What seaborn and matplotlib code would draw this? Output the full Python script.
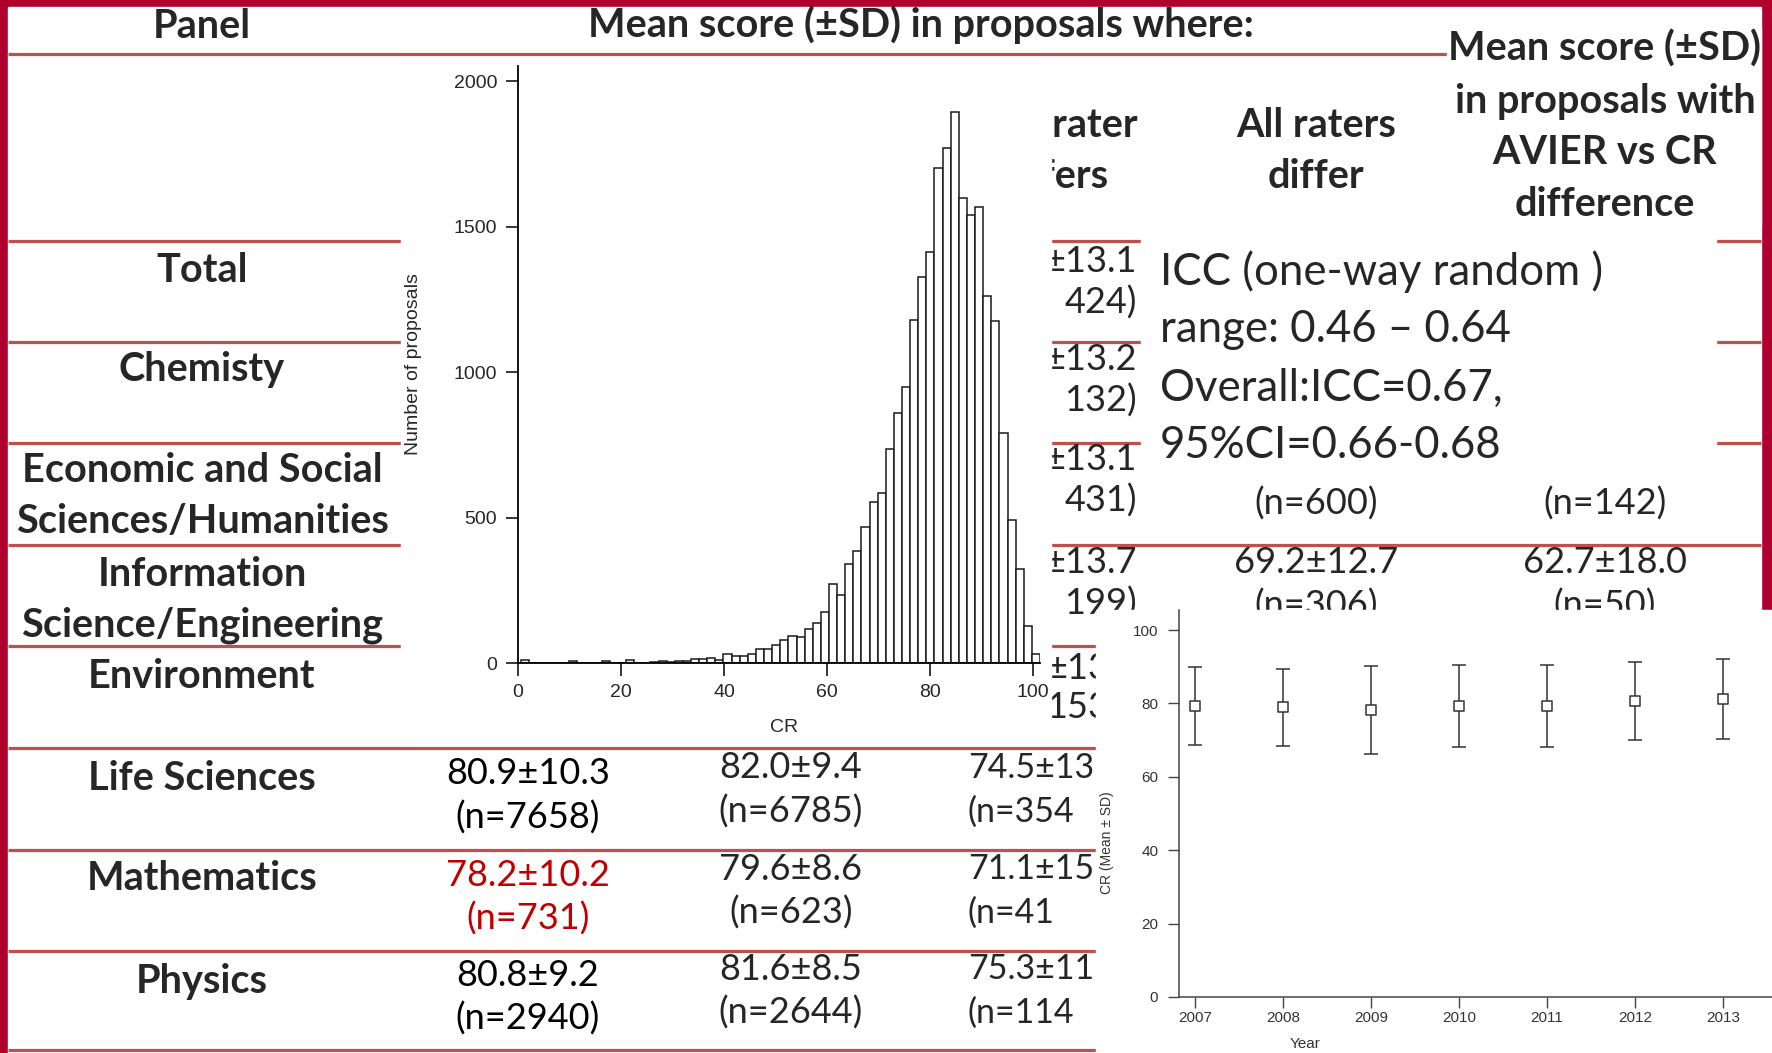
import numpy as np
import pandas as pd
import matplotlib
matplotlib.use("Agg")
import matplotlib.pyplot as plt
from matplotlib.patches import Rectangle
import seaborn as sns

W, H = 1772, 1053
CRIMSON = "#B0002E"
RULE = "#C0504D"
RED_TEXT = "#C00000"

# ---- histogram of CR scores (counts per bin) ----
cr_edges = np.linspace(0.5, 101.3, 65).tolist()
cr_counts = [9, 0, 0, 0, 0, 0, 6, 0, 0, 0, 8, 0, 0, 12, 0, 0,
             5, 8, 5, 8, 8, 14, 14, 17, 9, 32, 24, 24, 32, 49, 49, 62,
             80, 94, 90, 116, 139, 175,
             270, 233, 341, 385, 468, 554, 583, 737, 858, 947, 1179, 1328,
             1411, 1702, 1770, 1893, 1598, 1540, 1567, 1263, 1176, 790, 491,
             322, 127, 32]

# ---- CR by year (mean +- SD) ----
years = [2007, 2008, 2009, 2010, 2011, 2012, 2013]
cr_mean = [79.3, 78.9, 78.2, 79.3, 79.3, 80.7, 81.2]
cr_sd = [10.7, 10.5, 12.0, 11.1, 11.2, 10.6, 10.8]

# ---- table ----
row_labels = ["Total", "Chemisty", "Economic and Social\nSciences/Humanities",
              "Information\nScience/Engineering", "Environment",
              "Life Sciences", "Mathematics", "Physics"]
row_label_y = [270, 370, 496, 600, 677, 778, 879, 981]
rule_y = [54, 241, 342, 443, 545, 646, 748, 850, 951, 1050]

col_a = ["80.9±10.3\n(n=7658)", "78.2±10.2\n(n=731)", "80.8±9.2\n(n=2940)"]
col_b = ["82.0±9.4\n(n=6785)", "79.6±8.6\n(n=623)", "81.6±8.5\n(n=2644)"]
col_ab_y = [776, 877, 977]
# visible fragments of the "one rater differs" column
col_c_top = ["±13.1\n424)", "±13.2\n132)", "±13.1\n431)", "±13.7\n199)"]
col_c_top_y = [262, 360, 460, 563]
col_c_low = ["74.5±13\n(n=354", "71.1±15\n(n=41", "75.3±11\n(n=114"]
col_d = ["(n=600)", "69.2±12.7\n(n=306)"]
col_e = ["(n=142)", "62.7±18.0\n(n=50)"]
col_de_y = [504, 563]

icc_lines = ["ICC (one-way random )", "range: 0.46 – 0.64",
             "Overall:ICC=0.67,", "95%CI=0.66-0.68"]
icc_y = [272, 330, 388, 445]
right_header = ["Mean score (±SD)", "in proposals with", "AVIER vs CR", "difference"]
right_header_y = [49, 101, 152, 204]

BOLD_PT = 28.5
DATA_PT = 26

sns.set_theme(style="ticks")
plt.rcParams["font.family"] = ["Lato", "DejaVu Sans"]

fig = plt.figure(figsize=(W / 100, H / 100), dpi=100, facecolor=CRIMSON)
base = fig.add_axes([0, 0, 1, 1])
base.set_xlim(0, W)
base.set_ylim(H, 0)
base.axis("off")


def px_axes(left, top, right, bottom):
    return fig.add_axes([left / W, 1 - bottom / H, (right - left) / W, (bottom - top) / H])


def lines(x, y, s, pitch, **kw):
    parts = s.split("\n")
    for i, p in enumerate(parts):
        base.text(x, y + (i - (len(parts) - 1) / 2) * pitch, p, va="center", **kw)


base.add_patch(Rectangle((8, 7), 1753, H, color="white", zorder=0))
for y in rule_y:
    base.plot([8, 1761], [y, y], color=RULE, lw=2.3, zorder=1, solid_capstyle="butt")

# headers
base.text(202, 27, "Panel", ha="center", va="center", fontsize=BOLD_PT, weight="bold")
base.text(921, 25, "Mean score (±SD) in proposals where:", ha="center", va="center",
          fontsize=BOLD_PT, weight="bold")
lines(1052, 151, "One rater\ndiffers", 51, ha="center", fontsize=BOLD_PT, weight="bold")
lines(1316, 151, "All raters\ndiffer", 51, ha="center", fontsize=BOLD_PT, weight="bold")

for lab, y in zip(row_labels, row_label_y):
    lines(202, y, lab, 51, ha="center", fontsize=BOLD_PT, weight="bold")

for i, (a, b, y) in enumerate(zip(col_a, col_b, col_ab_y)):
    lines(528, y + 20, a, 44, ha="center", fontsize=DATA_PT,
          color=RED_TEXT if i == 1 else "black")
    lines(791, y + 14, b, 44, ha="center", fontsize=DATA_PT)

for s, y in zip(col_c_top, col_c_top_y):
    lines(1137, y + 20, s, 41, ha="right", fontsize=DATA_PT)
lines(1046, 688, "±13\n153", 39, ha="left", fontsize=DATA_PT)
for s, y in zip(col_c_low, col_ab_y):
    lines(968, y + 14, s, 44, ha="left", fontsize=24.5)

for d, e, y in zip(col_d, col_e, col_de_y):
    n = len(d.split("\n"))
    lines(1316, y + (n - 1) * 21, d, 43, ha="center", fontsize=DATA_PT)
    lines(1605, y + (n - 1) * 21, e, 43, ha="center", fontsize=DATA_PT)

# boxes pasted over the table
base.add_patch(Rectangle((401, 57), 650, 688, color="white", zorder=5))
base.add_patch(Rectangle((1447, 28), 314, 197, color="white", zorder=5))
base.add_patch(Rectangle((1141, 215), 575, 265, color="white", zorder=5))
base.add_patch(Rectangle((1096, 610), 676, 443, color="white", zorder=5))

for s, y in zip(right_header, right_header_y):
    base.text(1605, y, s, ha="center", va="center", fontsize=BOLD_PT, weight="bold", zorder=6)
for s, y in zip(icc_lines, icc_y):
    base.text(1160, y, s, ha="left", va="center", fontsize=31.5, zorder=6)

# histogram inset
ax_h = px_axes(518, 66, 1040, 663)
mids = [(lo + hi) / 2 for lo, hi in zip(cr_edges[:-1], cr_edges[1:])]
hist_df = pd.DataFrame({"cr": mids, "n": cr_counts})
sns.histplot(data=hist_df, x="cr", weights="n", bins=cr_edges, ax=ax_h,
             color="white", edgecolor="#1a1a1a", linewidth=1.1, alpha=1)
ax_h.set_xlim(0, 101.3)
ax_h.set_ylim(0, 2052)
ax_h.set_xticks(range(0, 101, 20))
ax_h.set_yticks(range(0, 2001, 500))
sns.despine(ax=ax_h)
for sp in ax_h.spines.values():
    sp.set_linewidth(1.3)
    sp.set_color("black")
ax_h.tick_params(length=9, width=1.1, labelsize=14, color="black")
ax_h.tick_params(axis="y", pad=6)
ax_h.tick_params(axis="x", pad=6)
for t in ax_h.get_xticklabels() + ax_h.get_yticklabels():
    t.set_family("Liberation Sans")
ax_h.set_xlabel("CR", fontsize=14, family="Liberation Sans")
ax_h.set_ylabel("Number of proposals", fontsize=14, family="Liberation Sans")
ax_h.xaxis.set_label_coords(0.51, -0.094)
ax_h.yaxis.set_label_coords(-0.184, 0.5)

# CR by year inset
ax_e = px_axes(1179, 610, 1772, 997)
ax_e.errorbar(years, cr_mean, yerr=cr_sd, fmt="none", ecolor="#333333",
              elinewidth=1.1, capsize=4.7, capthick=1.1)
sns.scatterplot(x=years, y=cr_mean, marker="s", s=42, color="white",
                edgecolor="#333333", linewidth=1.1, ax=ax_e, zorder=3)
ax_e.set_xlim(2006.818, 2013.557)
ax_e.set_ylim(0, 105.45)
ax_e.set_xticks(years)
ax_e.set_yticks(range(0, 101, 20))
sns.despine(ax=ax_e)
for sp in ax_e.spines.values():
    sp.set_linewidth(1.1)
    sp.set_color("#444444")
ax_e.tick_params(length=8, width=1.0, labelsize=11, color="#444444", labelcolor="#333333")
ax_e.tick_params(axis="y", pad=7)
ax_e.tick_params(axis="x", pad=2)
for t in ax_e.get_xticklabels() + ax_e.get_yticklabels():
    t.set_family("Liberation Sans")
ax_e.set_xlabel("Year", fontsize=11, family="Liberation Sans", color="#333333")
ax_e.set_ylabel("CR (Mean ± SD)", fontsize=10, family="Liberation Sans", color="#333333")
ax_e.xaxis.set_label_coords(0.2125, -0.103)
ax_e.yaxis.set_label_coords(-0.11, 0.398)

fig.savefig("out.png", dpi=100, facecolor=CRIMSON)
